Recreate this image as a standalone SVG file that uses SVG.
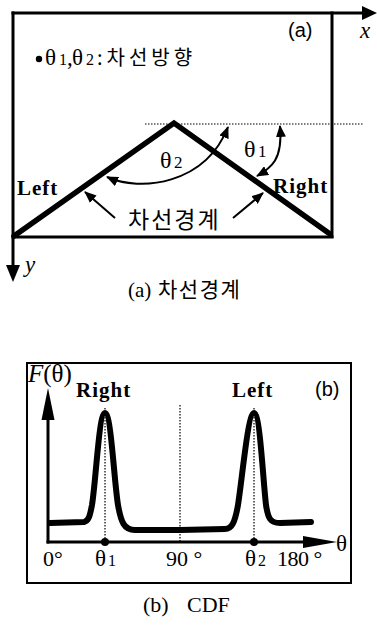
<svg xmlns="http://www.w3.org/2000/svg" width="377" height="628" viewBox="0 0 377 628">
<style>
.frame{fill:none;stroke:#000;stroke-width:3}
.thin{fill:none;stroke:#000;stroke-width:2}
.lane{fill:none;stroke:#000;stroke-width:5.5;stroke-linecap:round;stroke-linejoin:miter}
.dot{fill:none;stroke:#000;stroke-width:1.2;stroke-dasharray:1.5 1.5}
.arc{fill:none;stroke:#000;stroke-width:2}
.serif{font-family:"Liberation Serif","Times New Roman",serif;fill:#000}
.bold{font-family:"Liberation Serif","Times New Roman",serif;font-weight:bold;fill:#000;letter-spacing:1px}
.sans{font-family:"Liberation Sans",Arial,sans-serif;fill:#000}
.kr{font-family:"Noto Sans CJK KR","Noto Sans",sans-serif;fill:#000}
.curve{fill:none;stroke:#000;stroke-width:6;stroke-linejoin:round;stroke-linecap:round}
</style>
<defs>
<marker id="ah" viewBox="0 0 12 10" refX="11" refY="5" markerWidth="12" markerHeight="10" markerUnits="userSpaceOnUse" orient="auto-start-reverse">
<path d="M0,0 L12,5 L0,10 Z" fill="#000"/>
</marker>
</defs>

<g id="panel-a">
<g id="frame-a">
<line x1="11.5" y1="13" x2="363" y2="13" class="frame"/>
<polygon points="362,6 377,13 362,20" fill="#000"/>
<line x1="13" y1="11.5" x2="13" y2="266" class="frame"/>
<polygon points="6,265 13,282 20,265" fill="#000"/>
<line x1="332" y1="11.5" x2="332" y2="238" class="frame"/>
<line x1="11.5" y1="237" x2="333.5" y2="237" class="frame"/>
<text x="360" y="38" class="serif" font-size="23" font-style="italic">x</text>
<text x="25" y="272" class="serif" font-size="23" font-style="italic">y</text>
<text x="288" y="37" class="sans" font-size="20">(a)</text>
</g>
<g id="legend">
<circle cx="39" cy="59" r="3.2" fill="#000"/>
<text y="65" class="serif" font-size="23"><tspan x="45">θ</tspan><tspan x="59" font-size="16">1</tspan><tspan x="67">,</tspan><tspan x="72">θ</tspan><tspan x="86" font-size="16">2</tspan></text>
<text x="97" y="65" class="kr" font-size="20" letter-spacing="4">:차선방향</text>
</g>
<g id="lanes">
<line x1="145" y1="124" x2="364" y2="124" class="dot"/>
<polyline points="14,236 174,123 330,234" class="lane"/>
<text x="17" y="195" class="bold" font-size="21">Left</text>
<text x="273" y="193" class="bold" font-size="21">Right</text>
</g>
<g id="angles">
<path d="M107,177 C140,192 205,185 228,127" class="arc" marker-start="url(#ah)" marker-end="url(#ah)"/>
<path d="M257,176 C271,168 283,160 280,126" class="arc" marker-start="url(#ah)" marker-end="url(#ah)"/>
<text y="168" class="serif" font-size="24"><tspan x="160">θ</tspan><tspan x="174" font-size="17">2</tspan></text>
<text y="157" class="serif" font-size="24"><tspan x="244">θ</tspan><tspan x="258" font-size="17">1</tspan></text>
</g>
<g id="boundary-label">
<text x="128" y="228" class="kr" font-size="23" letter-spacing="2">차선경계</text>
<line x1="115" y1="218" x2="85" y2="192" class="arc" marker-end="url(#ah)"/>
<line x1="233" y1="218" x2="263" y2="193" class="arc" marker-end="url(#ah)"/>
</g>
<text y="297" class="serif" font-size="21"><tspan x="128">(a)</tspan><tspan x="158" class="kr" font-size="21" letter-spacing="1.5">차선경계</tspan></text>
</g>

<g id="panel-b">
<rect x="27" y="363" width="324" height="220" class="thin"/>
<g id="axes">
<line x1="48" y1="418" x2="48" y2="543.5" stroke="#000" stroke-width="3"/>
<polygon points="41.5,420 48,388 54.5,420" fill="#000"/>
<line x1="46.5" y1="542" x2="305" y2="542" stroke="#000" stroke-width="3"/>
<polygon points="303,536 337,542 303,548" fill="#000"/>
<text x="28" y="382" class="serif" font-size="25"><tspan font-style="italic">F</tspan>(θ)</text>
<text x="336" y="551" class="serif" font-size="23">θ</text>
</g>
<g id="guides">
<line x1="105" y1="408" x2="105" y2="542" class="dot"/>
<line x1="180" y1="405" x2="180" y2="542" class="dot"/>
<line x1="254" y1="408" x2="254" y2="542" class="dot"/>
<circle cx="105" cy="542" r="4" fill="#000"/>
<circle cx="254" cy="542" r="4" fill="#000"/>
</g>
<path class="curve" d="M50,523 L84,522 C89,521 90,515 92,505 C96,480 99,413 105,413 C111,413 114,480 118,505 C121,522 124,530 135,530 L180,530 L225,529 C232,529 235,522 238,505 C242,480 248,413 254,413 C260,413 263,480 266,505 C268,518 270,523 280,523 L311,522"/>
<text x="76" y="397" class="bold" font-size="21">Right</text>
<text x="232" y="397" class="bold" font-size="21">Left</text>
<text x="315" y="396" class="sans" font-size="20">(b)</text>
<g id="ticks">
<text x="43" y="566" class="serif" font-size="22">0°</text>
<text y="566" class="serif" font-size="23"><tspan x="95">θ</tspan><tspan x="108" font-size="16">1</tspan></text>
<text x="166" y="566" class="serif" font-size="22">90 °</text>
<text y="566" class="serif" font-size="23"><tspan x="245">θ</tspan><tspan x="258" font-size="16">2</tspan></text>
<text x="277" y="566" class="serif" font-size="22" letter-spacing="-0.5">180 °</text>
</g>
<text y="612" class="serif" font-size="22"><tspan x="143">(b)</tspan><tspan x="187">CDF</tspan></text>
</g>
</svg>
